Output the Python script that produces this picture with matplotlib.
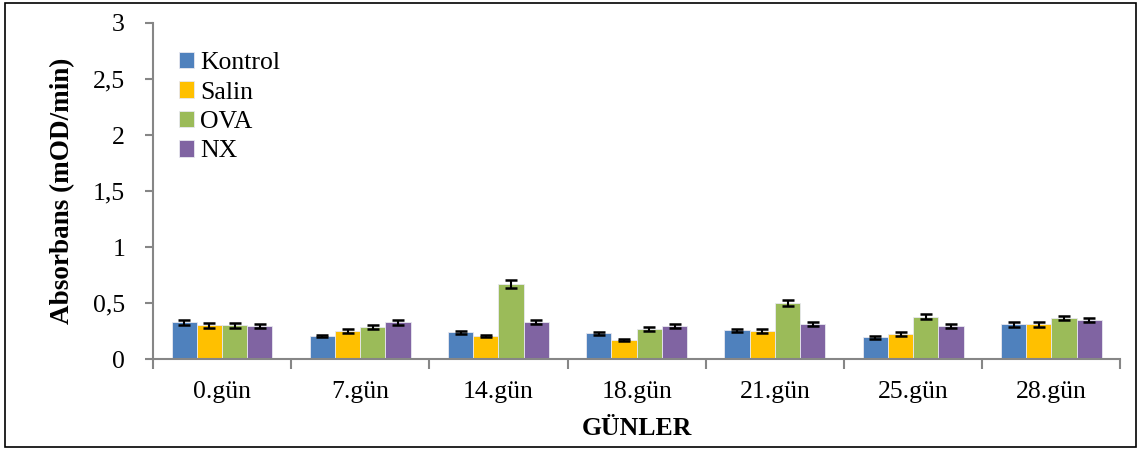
import numpy as np
import matplotlib.pyplot as plt
from matplotlib.patches import Rectangle
from matplotlib.ticker import FuncFormatter

days = ["0.gün", "7.gün", "14.gün", "18.gün", "21.gün", "25.gün", "28.gün"]
groups = ["Kontrol", "Salin", "OVA", "NX"]
kontrol = [0.33, 0.205, 0.24, 0.23, 0.256, 0.194, 0.31]
salin = [0.30, 0.25, 0.205, 0.17, 0.25, 0.223, 0.31]
ova = [0.30, 0.283, 0.67, 0.268, 0.503, 0.38, 0.366]
nx = [0.295, 0.327, 0.333, 0.297, 0.315, 0.297, 0.348]
kontrol_err = [0.022, 0.012, 0.015, 0.012, 0.015, 0.012, 0.02]
salin_err = [0.02, 0.015, 0.012, 0.01, 0.015, 0.015, 0.02]
ova_err = [0.02, 0.018, 0.035, 0.018, 0.025, 0.022, 0.02]
nx_err = [0.02, 0.02, 0.018, 0.018, 0.018, 0.015, 0.02]

colors = ["#4F81BD", "#FFC000", "#9BBB59", "#8064A2"]
axis_col = "#868686"

plt.rcParams["font.family"] = ["Liberation Serif", "DejaVu Serif"]
fs = 18.5

fig = plt.figure(figsize=(11.41, 4.5), dpi=100)
ax = fig.add_axes([0.134, 0.202, 0.848, 0.747])

x = np.arange(len(days))
w = 0.73 / 4
series = [kontrol, salin, ova, nx]
errs = [kontrol_err, salin_err, ova_err, nx_err]
for i, (vals, err) in enumerate(zip(series, errs)):
    ax.bar(x + (i - 1.5) * w, vals, w, color=colors[i], edgecolor="#e8e8f0",
           linewidth=0.6, label=groups[i], zorder=2)
    ax.errorbar(x + (i - 1.5) * w, vals, yerr=err, fmt="none", ecolor="black",
                elinewidth=1.5, capsize=4.5, capthick=1.8, zorder=3)

ax.set_xlim(-0.5, len(days) - 0.5)
ax.set_ylim(0, 3)
ax.set_yticks(np.arange(0, 3.01, 0.5))
ax.yaxis.set_major_formatter(FuncFormatter(lambda v, p: ("%g" % v).replace(".", ",")))
ax.set_xticks(np.arange(-0.5, len(days), 1.0))
ax.set_xticklabels([])
ax.set_xticks(x, minor=True)
ax.set_xticklabels(days, minor=True, fontsize=fs)
ax.tick_params(axis="x", which="minor", length=0, pad=16)
ax.tick_params(axis="x", which="major", length=7, width=1.5, color=axis_col)
ax.tick_params(axis="y", length=6, width=1.5, color=axis_col, labelsize=fs, pad=14)

for s in ["top", "right"]:
    ax.spines[s].set_visible(False)
for s in ["left", "bottom"]:
    ax.spines[s].set_color(axis_col)
    ax.spines[s].set_linewidth(1.5)

ax.set_xlabel("GÜNLER", fontsize=fs, fontweight="bold", labelpad=10)
ax.set_ylabel("Absorbans (mOD/min)", fontsize=19.5, fontweight="bold", labelpad=13)

ax.legend(loc="upper left", bbox_to_anchor=(0.0, 0.99), frameon=False, fontsize=fs,
          handlelength=0.6, handleheight=0.6, handletextpad=0.25, labelspacing=0.28,
          borderaxespad=0.6)

fig.patches.append(Rectangle((0.004, 0.006), 0.992, 0.988, transform=fig.transFigure,
                             fill=False, edgecolor="black", linewidth=1.2))

fig.savefig("out.png", dpi=100)
